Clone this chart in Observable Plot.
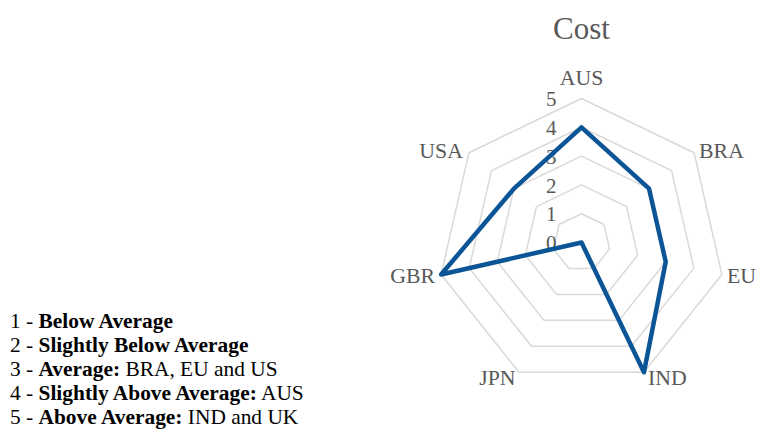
<!DOCTYPE html>
<html>
<head>
<meta charset="utf-8">
<script src="https://cdn.jsdelivr.net/npm/d3@7"></script>
<script src="https://cdn.jsdelivr.net/npm/@observablehq/plot@0.6"></script>
<style>
  html, body { margin: 0; padding: 0; background: #fff; }
  #wrap { position: relative; width: 760px; height: 430px; overflow: hidden; }
  #legend {
    position: absolute; left: 10px; top: 309px;
    font-family: "Liberation Serif", "Times New Roman", serif;
    font-size: 21.4px; line-height: 24.1px; color: #000; white-space: nowrap;
  }
</style>
</head>
<body>
<div id="wrap"><div id="legend"></div></div>
<script>
// ---- data ----
const title = "Cost";
const categories = ["AUS", "BRA", "EU", "IND", "JPN", "GBR", "USA"];
const values = [4, 3, 3, 5, 0, 5, 3];
const levels = [1, 2, 3, 4, 5];
const tickValues = [0, 1, 2, 3, 4, 5];
const tickLabels = ["0", "1", "2", "3", "4", "5"];
const legendNums = ["1", "2", "3", "4", "5"];
const legendBold = ["Below Average", "Slightly Below Average", "Average:", "Slightly Above Average:", "Above Average:"];
const legendRest = ["", "", " BRA, EU and US", " AUS", " IND and UK"];

// ---- layout ----
const W = 760, H = 430;
const cx = 581, cy = 242, U = 28.8; // centre and pixels per unit
const font = "'Liberation Serif', 'Times New Roman', serif";
const grey = "#595959";
const blue = "#0b5597";

const n = categories.length;
const ang = i => 2 * Math.PI * i / n;
const pt = (i, r) => ({x: r * Math.sin(ang(i)), y: r * Math.cos(ang(i))});

const ringData = levels.flatMap(l =>
  d3.range(n + 1).map(k => ({level: l, ...pt(k % n, l)})));
const seriesData = d3.range(n + 1).map(k => ({name: categories[k % n], value: values[k % n], ...pt(k % n, values[k % n])}));
const maxLevel = d3.max(levels);
const labelData = categories.map((c, i) => ({name: c, s: Math.sin(ang(i)), c: Math.cos(ang(i)), ...pt(i, maxLevel)}));
const tickData = tickValues.map((v, i) => ({x: 0, y: v, label: tickLabels[i]}));

const labelRules = [
  {test: d => Math.abs(d.s) < 0.1, textAnchor: "middle", dx: 0, dy: -20},
  {test: d => d.s >= 0.1 && d.c > 0.3, textAnchor: "start", dx: 5, dy: -2},
  {test: d => d.s >= 0.1 && Math.abs(d.c) <= 0.3, textAnchor: "start", dx: 5, dy: 1.5},
  {test: d => d.s >= 0.1 && d.c < -0.3, textAnchor: "start", dx: 4, dy: 6},
  {test: d => d.s <= -0.1 && d.c > 0.3, textAnchor: "end", dx: -6, dy: -2},
  {test: d => d.s <= -0.1 && Math.abs(d.c) <= 0.3, textAnchor: "end", dx: -6, dy: 1.5},
  {test: d => d.s <= -0.1 && d.c < -0.3, textAnchor: "end", dx: -3.5, dy: 6}
];

const chart = Plot.plot({
  width: W, height: H,
  margin: 0,
  style: {background: "transparent", fontFamily: font},
  x: {domain: [-cx / U, (W - cx) / U], axis: null},
  y: {domain: [-(H - cy) / U, cy / U], axis: null},
  marks: [
    Plot.line(ringData, {x: "x", y: "y", z: "level", stroke: "#d9d9d9", strokeWidth: 1.5}),
    Plot.text(tickData, {x: "x", y: "y", text: "label", textAnchor: "end", dx: -25, dy: 1,
      fontSize: 21, fill: grey, fontFamily: font}),
    Plot.line(seriesData, {x: "x", y: "y", stroke: blue, strokeWidth: 4.5, strokeLinejoin: "round"}),
    ...labelRules.map(r => Plot.text(labelData.filter(r.test), {
      x: "x", y: "y", text: "name", textAnchor: r.textAnchor, dx: r.dx, dy: r.dy,
      fontSize: 21.8, fill: grey, fontFamily: font
    })),
    Plot.text([title], {frameAnchor: "top", lineAnchor: "middle", text: d => d, dx: cx - W / 2, dy: 29,
      fontSize: 31, fill: grey, fontFamily: font})
  ]
});

const wrap = document.getElementById("wrap");
wrap.insertBefore(chart, wrap.firstChild);

const legend = d3.select("#legend");
legendNums.forEach((num, i) => {
  const line = legend.append("div");
  line.append("span").text(num + " - ");
  line.append("b").text(legendBold[i]);
  if (legendRest[i]) line.append("span").text(legendRest[i]);
});
</script>
</body>
</html>
